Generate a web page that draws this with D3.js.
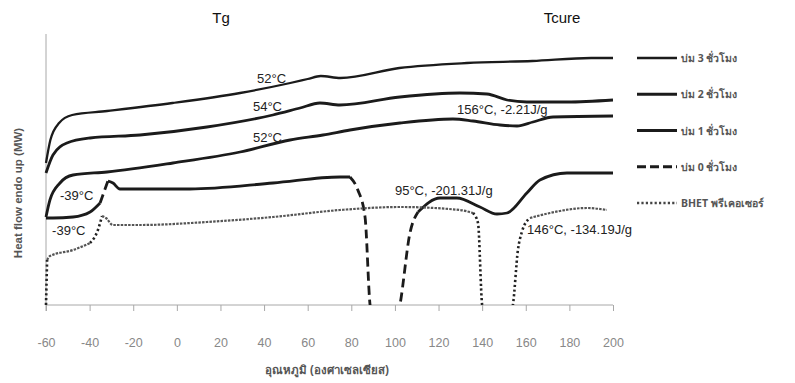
<!DOCTYPE html>
<html>
<head>
<meta charset="utf-8">
<script src="https://d3js.org/d3.v7.min.js"></script>
<style>
  body { margin: 0; background: #fff; }
  svg text { font-family: "Liberation Sans", Arial, sans-serif; }
  .thai { font-family: "Noto Sans", "DejaVu Sans", sans-serif; }
</style>
</head>
<body>
<div id="chart"></div>
<script>
// DSC curves: temperature (°C) and heat flow (arbitrary units, endo up)
var cure3T = [-60, -58, -54, -48, -32, -2, 29, 52, 60, 66, 75, 102, 133, 163, 190, 200];
var cure3H = [14.2, 16.5, 18.2, 19.0, 19.4, 20.2, 21.2, 22.2, 22.6, 22.9, 22.7, 23.7, 24.2, 24.4, 24.7, 24.7];

var cure2T = [-60, -56.8, -50.4, -39.8, -16.9, 13.8, 44, 56.5, 65.6, 74.8, 102.3, 129.8, 142.2, 151.4, 160.5, 178.9, 200];
var cure2H = [13.2, 15.0, 16.2, 16.7, 17.0, 17.8, 19.0, 19.7, 20.2, 20.0, 20.8, 21.2, 21.1, 20.5, 20.3, 20.3, 20.5];

var cure1T = [-60, -58.2, -53.6, -47.6, -32, -1.8, 29, 51.9, 67, 79.4, 102.3, 126.6, 135.8, 148.2, 156, 163.3, 172.5, 200];
var cure1H = [8.8, 10.5, 12.2, 13.0, 13.3, 14.2, 15.3, 16.5, 17.0, 17.5, 18.2, 18.6, 18.4, 18.0, 17.9, 18.3, 18.8, 18.9];

var cure0T = [-60, -56.8, -47.6, -39.8, -35.2, -31.6, -29.3, -26.1, 6, 44.1, 74.8, 79.4, 83, 86.3, 88.6, 89.5, 101.4, 102.3, 106.9, 110.6, 120.7, 128.4, 139, 146.8, 151.4, 160.5, 166.5, 178.9, 200];
var cure0H = [8.7, 8.7, 8.8, 9.3, 10.2, 12.4, 12.2, 11.6, 11.6, 12.2, 12.8, 12.8, 11.5, 8.8, 0, -1, -1, 0, 7.2, 9.3, 10.7, 10.7, 9.8, 9.1, 9.2, 11.2, 12.5, 13.2, 13.2];

var bhetT = [-60, -59.5, -58.2, -47.6, -39.8, -36.2, -34.3, -32.5, -29.3, -16.9, 13.8, 44.1, 74.8, 102.3, 129.8, 135.8, 138.1, 140, 141.3, 152.8, 154.1, 156.4, 158.2, 161.9, 171.1, 188, 197.2];
var bhetH = [0, 4.5, 4.9, 5.5, 6.2, 7.5, 8.9, 8.7, 8.0, 8.0, 8.3, 8.8, 9.5, 9.8, 9.5, 9.2, 8.2, 0, -1, -1, 0, 5.5, 7.3, 8.7, 9.2, 9.7, 9.5];

var seriesNames = ["บ่ม 3 ชั่วโมง", "บ่ม 2 ชั่วโมง", "บ่ม 1 ชั่วโมง", "บ่ม 0 ชั่วโมง", "BHET พรีเคอเซอร์"];
var xTicks = [-60, -40, -20, 0, 20, 40, 60, 80, 100, 120, 140, 160, 180, 200];

var noteText = ["52°C", "54°C", "52°C", "156°C, -2.21J/g", "95°C, -201.31J/g", "146°C, -134.19J/g", "-39°C", "-39°C"];
var noteT = [36.8, 34.9, 34.9, 128.5, 100, 160.6, -53.6, -57.2];
var noteH = [22.2, 19.4, 16.3, 19.1, 11.0, 7.1, 10.5, 7.0];

var W = 795, H = 383;
var svg = d3.select("#chart").append("svg").attr("width", W).attr("height", H);

var x = d3.scaleLinear().domain([-60, 200]).range([46, 613]);
var y = d3.scaleLinear().domain([0, 27]).range([305, 35]);

svg.append("defs").append("clipPath").attr("id", "plot")
  .append("rect").attr("x", 40).attr("y", 30).attr("width", 580).attr("height", 275);

// axes
var axisCol = "#a8a8a8";
var gx = svg.append("g").attr("transform", "translate(0,305)")
  .call(d3.axisBottom(x).tickValues(xTicks).tickSize(6).tickPadding(27).tickFormat(d3.format("d")));
gx.select(".domain").attr("stroke", axisCol).attr("d", "M46,0H613");
gx.selectAll(".tick line").attr("stroke", axisCol);
gx.selectAll(".tick text").attr("fill", "#888").style("font-size", "12.5px")
  .style("font-family", "'Liberation Sans', Arial, sans-serif")
  .text(function(d) { return d < 0 ? "-" + Math.abs(d) : d; });

svg.append("line").attr("x1", 46).attr("x2", 46).attr("y1", 34).attr("y2", 311).attr("stroke", axisCol);

// curves
var series = [
  {T: cure3T, H: cure3H, w: 2.3, kind: "solid"},
  {T: cure2T, H: cure2H, w: 2.8, kind: "solid"},
  {T: cure1T, H: cure1H, w: 2.8, kind: "solid"},
  {T: cure0T, H: cure0H, w: 2.8, kind: "dash"},
  {T: bhetT, H: bhetH, w: 2.4, kind: "dot"}
];

var line = d3.line().x(function(d) { return x(d[0]); }).y(function(d) { return y(d[1]); })
  .curve(d3.curveMonotoneX);

var plot = svg.append("g").attr("clip-path", "url(#plot)");

series.forEach(function(s) {
  var pts = s.T.map(function(t, i) { return [t, s.H[i]]; });
  if (s.kind === "solid") {
    plot.append("path").attr("d", line(pts)).attr("fill", "none")
      .attr("stroke", "#1b1b1b").attr("stroke-width", s.w).attr("stroke-linejoin", "round");
    return;
  }
  // split into runs: steep parts get the visible dash pattern
  var runs = [], cur = null;
  for (var i = 1; i < pts.length; i++) {
    var dx = x(pts[i][0]) - x(pts[i - 1][0]);
    var dy = Math.abs(y(pts[i][1]) - y(pts[i - 1][1]));
    var steep = dy > 1.5 * dx;
    if (!cur || cur.steep !== steep) {
      cur = {steep: steep, pts: [pts[i - 1]]};
      runs.push(cur);
    }
    cur.pts.push(pts[i]);
  }
  runs.forEach(function(r) {
    var dash, col = "#1b1b1b", w = s.w;
    if (s.kind === "dash") dash = r.steep ? "9,5" : null;
    else { dash = r.steep ? "2.2,2.6" : "2.5,1.2"; col = r.steep ? "#222" : "#555"; w = r.steep ? 2.6 : 2.2; }
    plot.append("path").attr("d", line(r.pts)).attr("fill", "none")
      .attr("stroke", col).attr("stroke-width", w)
      .attr("stroke-dasharray", dash);
  });
});

// annotations
noteText.forEach(function(t, i) {
  svg.append("text").attr("x", x(noteT[i])).attr("y", y(noteH[i]))
    .attr("fill", "#222").style("font-size", "13px").text(t);
});

// titles
svg.append("text").attr("x", 221).attr("y", 23).attr("text-anchor", "middle")
  .attr("fill", "#111").style("font-size", "15px").text("Tg");
svg.append("text").attr("x", 562).attr("y", 23).attr("text-anchor", "middle")
  .attr("fill", "#111").style("font-size", "15px").text("Tcure");

svg.append("text").attr("class", "thai").attr("x", 327).attr("y", 374).attr("text-anchor", "middle")
  .attr("fill", "#555").style("font-size", "11.5px").style("font-weight", "bold")
  .text("อุณหภูมิ (องศาเซลเซียส)");

svg.append("text").attr("transform", "translate(22,193) rotate(-90)").attr("text-anchor", "middle")
  .attr("fill", "#555").style("font-size", "11.5px").style("font-weight", "bold")
  .text("Heat flow endo up (MW)");

// legend
var legY = d3.scalePoint().domain(seriesNames).range([58, 203]);
var leg = svg.append("g");
seriesNames.forEach(function(n, i) {
  var s = series[i];
  leg.append("line").attr("x1", 637).attr("x2", 677).attr("y1", legY(n)).attr("y2", legY(n))
    .attr("stroke", s.kind === "dot" ? "#444" : "#1b1b1b")
    .attr("stroke-width", s.kind === "dot" ? 2.4 : s.w)
    .attr("stroke-dasharray", s.kind === "dash" ? "9,4" : s.kind === "dot" ? "2.2,2.2" : null);
  leg.append("text").attr("class", "thai").attr("x", 681).attr("y", legY(n) + 4)
    .attr("fill", "#555").style("font-size", "10.5px").style("font-weight", "bold").text(n);
});
</script>
</body>
</html>
